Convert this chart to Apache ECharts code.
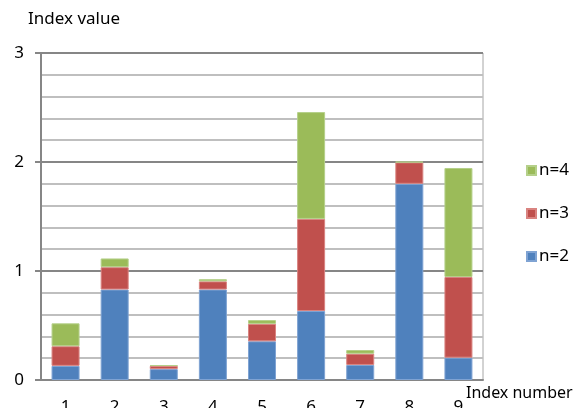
<!DOCTYPE html>
<html>
<head>
<meta charset="utf-8">
<script src="https://cdn.jsdelivr.net/npm/echarts@6/dist/echarts.min.js"></script>
<style>html,body{margin:0;padding:0;background:#fff;}#c{width:579px;height:408px;}</style>
</head>
<body>
<div id="c"></div>
<script>
const categories = ['1','2','3','4','5','6','7','8','9'];
const n2 = [0.13, 0.83, 0.10, 0.83, 0.355, 0.633, 0.138, 1.80, 0.205];
const n3 = [0.18, 0.205, 0.03, 0.075, 0.16, 0.845, 0.103, 0.197, 0.74];
const n4 = [0.21, 0.08, 0.005, 0.02, 0.035, 0.98, 0.034, 0.005, 1.0];
const seriesNames = ['n=2','n=3','n=4'];
const legendOrder = ['n=4','n=3','n=2'];
const colors = ['#4F81BD','#C0504D','#9BBB59'];
const borders = ['#7FA3D3','#D98380','#B5D08A'];
const FONT = 'Noto Sans';
const FS = 17;

const chart = echarts.init(document.getElementById('c'), null, {renderer:'canvas'});
const dataSets = [n2, n3, n4];
chart.setOption({
  animation: false,
  textStyle: {fontFamily: FONT},
  grid: {left: 41, right: 96, top: 53, bottom: 28, show: true, borderColor: '#A6A6A6', borderWidth: 1,
         containLabel: false, outerBoundsMode: 'none'},
  legend: {
    data: legendOrder, orient: 'vertical', left: 521, top: 157,
    itemWidth: 9, itemHeight: 9, itemGap: 26,
    icon: 'rect',
    textStyle: {fontFamily: FONT, fontSize: FS, color: '#000', padding: [0,0,0,-2]}
  },
  xAxis: {
    type: 'category', data: categories,
    axisLine: {lineStyle: {color: '#868686', width: 2}},
    axisTick: {show: false},
    axisLabel: {fontFamily: FONT, fontSize: FS, color: '#000', margin: 19}
  },
  yAxis: {
    type: 'value', min: 0, max: 3, interval: 1,
    axisLine: {show: true, lineStyle: {color: '#868686', width: 2}},
    axisTick: {show: true, length: 6, lineStyle: {color: '#868686', width: 2}},
    axisLabel: {fontFamily: FONT, fontSize: FS, color: '#000', margin: 17},
    splitLine: {lineStyle: {color: '#868686', width: 2}},
    minorTick: {show: false, splitNumber: 5},
    minorSplitLine: {show: true, lineStyle: {color: '#BFBFBF', width: 2}}
  },
  series: seriesNames.map((nm, i) => ({
    name: nm, type: 'bar', stack: 'total', data: dataSets[i],
    barWidth: 28,
    itemStyle: {color: colors[i], borderColor: borders[i], borderWidth: 1}
  })),
  graphic: [
    {type: 'text', left: 28, top: 11, style: {text: 'Index value', fontFamily: FONT, fontSize: FS, fill: '#000'}},
    {type: 'text', left: 466, top: 385, style: {text: 'Index number', fontFamily: FONT, fontSize: 16, fill: '#000'}}
  ]
});
</script>
</body>
</html>
